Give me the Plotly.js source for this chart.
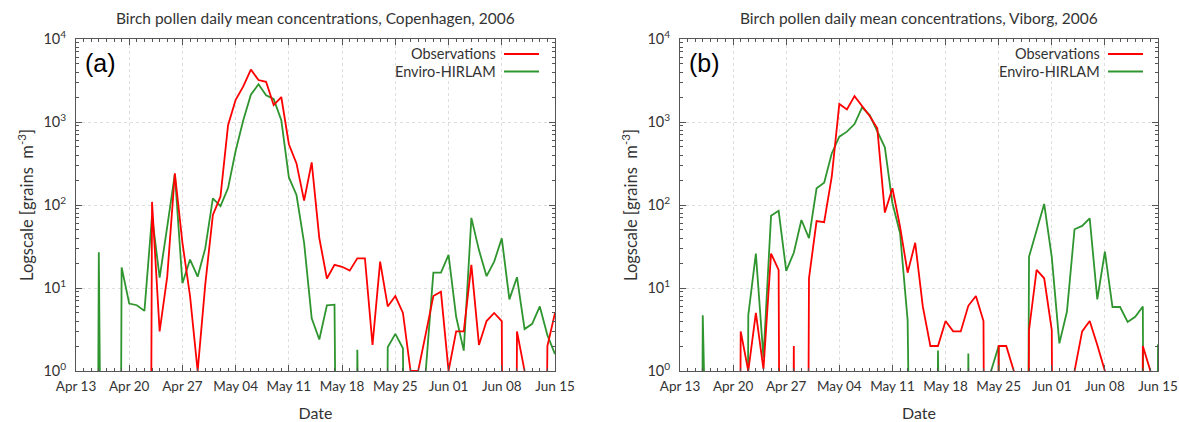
<!DOCTYPE html>
<html>
<head>
<meta charset="utf-8">
<script src="https://cdn.plot.ly/plotly-3.0.1.min.js"></script>
<style>html,body{margin:0;padding:0;background:#fff;}#chart{width:1179px;height:422px;}</style>
</head>
<body>
<div id="chart"></div>
<script>
// Daily values from 2006-04-13 (index 0) to 2006-06-15 (index 63). 0 = no pollen (off the log scale).
const startDate = '2006-04-13';
const nDays = 64;

const obsCopenhagen = [0,0,0,0,0,0,0,0,0,0, 109,3.0,13.7,240,35,8,1.0,11,76,126,
  915,1850,2680,4290,3200,3050,1600,2000,540,317,
  113,326,40,13,19,18,16.2,22.8,22.8,2.06,
  20.8,6.0,8.0,5.0,1.0,1.0,2.8,8.0,9.0,1.0,
  3.0,3.0,19,2.06,4.0,5.0,4.0,0,3.0,1.0,
  0,0,2.0,5.0];
const modCopenhagen = [0,0,0,27,0,0,17.7,6.5,6.2,5.3, 74,13.3,55,236,11.4,22,13.7,30,120,97,
  160,450,1050,2130,2850,2100,1900,1050,215,132,
  35,4.3,2.4,6.2,6.3,0,0,1.8,0,0,
  0,1.93,2.8,1.88,0,0,1.0,15.3,15.3,25,
  4.5,1.76,70,28.6,13.9,20.8,39.7,7.3,13.5,3.2,
  3.7,6.0,2.7,1.6];
const obsViborg = [0,0,0,0,0,0,0,0,3.0,1.0, 5.0,1.05,26,16.5,0,2.0,0,13.1,64,62,
  219,1650,1420,2050,1550,1180,840,81,159,55,
  15.3,35,6.0,2.0,2.0,4.0,3.0,3.0,6.1,8.0,
  4.0,0,2.0,2.0,1.0,0,3.1,16.5,13.1,3.1,
  0,0,1.0,3.0,4.0,2.06,1.0,0,0,0,
  0,2.0,1.0,0];
const modViborg = [0,0,0,4.7,0,0,0,0,0,4.7, 26,1.45,74,85,16.1,26.6,66,40,159,186,
  418,665,765,945,1500,1210,770,495,105,46,
  4.1,0,0,0,1.76,0,0,0,1.63,0,
  0,1.0,2.0,0,0,0,23.8,50,103,23.5,
  2.15,5.2,51,56,69,7.3,27.4,5.9,5.9,3.9,
  4.5,6.0,0,2.1];

const panelTitles = ['Birch pollen daily mean concentrations, Copenhagen, 2006',
                     'Birch pollen daily mean concentrations, Viborg, 2006'];
const panelLabels = ['(a)', '(b)'];
const seriesNames = ['Observations', 'Enviro-HIRLAM'];
const seriesColors = ['#ff0000', '#2f952f'];
const yTickVals = [1, 10, 100, 1000, 10000];
const yTickText = ['10<sup>0</sup>','10<sup>1</sup>','10<sup>2</sup>','10<sup>3</sup>','10<sup>4</sup>'];

// build date categories
const dates = [];
{
  const t0 = Date.UTC(2006, 3, 13);
  for (let i = 0; i < nDays; i++) {
    const d = new Date(t0 + i * 86400000);
    dates.push(d.toISOString().slice(0, 10));
  }
}
// zeros cannot be shown on a log axis: send them far below the axis so the line drops vertically
const floorZero = arr => arr.map(v => v > 0 ? v : 1e-20);

const minorY = [];
for (let e = 0; e < 4; e++) for (let k = 2; k <= 9; k++) minorY.push(k * Math.pow(10, e));

const W = 1179, H = 422;
const plotX = [[76, 555], [680, 1158]];
const plotY = [39, 371];
const fontFam = 'Lato, "Open Sans", sans-serif';
const txtColor = '#333333';

const traces = [];
const data = [[obsCopenhagen, modCopenhagen], [obsViborg, modViborg]];
data.forEach((pair, p) => {
  pair.forEach((ser, s) => {
    traces.push({
      x: dates, y: floorZero(ser), type: 'scatter', mode: 'lines',
      name: seriesNames[s], xaxis: p ? 'x2' : 'x', yaxis: p ? 'y2' : 'y',
      line: {color: seriesColors[s], width: 1.8},
      showlegend: false, hoverinfo: 'x+y'
    });
  });
});
// draw observations on top
const ordered = [traces[1], traces[0], traces[3], traces[2]];

function xAxis(p) {
  return {
    domain: [plotX[p][0] / W, plotX[p][1] / W],
    type: 'date', range: [startDate, '2006-06-15'],
    tickmode: 'linear', tick0: startDate, dtick: 7 * 86400000,
    tickformat: '%b %d',
    ticks: 'inside', ticklen: 6, tickcolor: '#555', tickwidth: 1,
    minor: {dtick: 86400000, ticks: 'inside', ticklen: 3, tickcolor: '#555', showgrid: false},
    showline: true, linecolor: '#555', linewidth: 1, mirror: 'ticks',
    showgrid: true, gridcolor: '#dedede', griddash: 'dot', gridwidth: 1,
    zeroline: false,
    tickfont: {family: fontFam, size: 13.5, color: txtColor},
    ticklabelstandoff: 3,
    title: {text: 'Date', font: {family: fontFam, size: 16, color: txtColor}, standoff: 15},
    anchor: p ? 'y2' : 'y', automargin: false, fixedrange: true
  };
}
function yAxis(p) {
  return {
    domain: [1 - plotY[1] / H, 1 - plotY[0] / H],
    type: 'log', range: [0, 4],
    tickmode: 'array', tickvals: yTickVals, ticktext: yTickText,
    ticks: 'inside', ticklen: 6, tickcolor: '#555',
    minor: {tickmode: 'array', tickvals: minorY, ticks: 'inside', ticklen: 3, tickcolor: '#555', showgrid: false},
    showline: true, linecolor: '#555', linewidth: 1, mirror: 'ticks',
    showgrid: true, gridcolor: '#dedede', griddash: 'dot', gridwidth: 1,
    zeroline: false,
    tickfont: {family: fontFam, size: 14.5, color: txtColor},
    ticklabelstandoff: 6,
    title: {text: 'Logscale [grains&nbsp;&nbsp;m<sup>-3</sup>]', font: {family: fontFam, size: 16.5, color: txtColor}, standoff: 5},
    anchor: p ? 'x2' : 'x', automargin: false, fixedrange: true
  };
}

const annotations = [];
const shapes = [];
[0, 1].forEach(p => {
  const x0 = plotX[p][0], x1 = plotX[p][1];
  annotations.push({text: panelTitles[p], xref: 'paper', yref: 'paper',
    x: (x0 + x1) / 2 / W, y: 1 - 18 / H, xanchor: 'center', yanchor: 'middle', showarrow: false,
    font: {family: fontFam, size: 15.5, color: txtColor}});
  annotations.push({text: panelLabels[p], xref: 'paper', yref: 'paper',
    x: (x0 + 7) / W, y: 1 - 63 / H, xanchor: 'left', yanchor: 'middle', showarrow: false,
    font: {family: 'Liberation Sans, Arial, sans-serif', size: 25, color: '#000'}});
  seriesNames.forEach((nm, s) => {
    const yy = 1 - (54 + 17.5 * s) / H;
    annotations.push({text: nm, xref: 'paper', yref: 'paper',
      x: (x0 + 422) / W, y: yy, xanchor: 'right', yanchor: 'middle', showarrow: false,
      font: {family: fontFam, size: 14.5, color: txtColor}});
    shapes.push({type: 'line', xref: 'paper', yref: 'paper',
      x0: (x0 + 428) / W, x1: (x0 + 463) / W, y0: yy, y1: yy,
      line: {color: seriesColors[s], width: 1.8}});
  });
});

const layout = {
  width: W, height: H,
  margin: {l: 0, r: 0, t: 0, b: 0},
  paper_bgcolor: '#fff', plot_bgcolor: '#fff',
  showlegend: false,
  xaxis: xAxis(0), yaxis: yAxis(0),
  xaxis2: xAxis(1), yaxis2: yAxis(1),
  annotations: annotations, shapes: shapes
};

Plotly.newPlot('chart', ordered, layout, {staticPlot: true, displayModeBar: false});
</script>
</body>
</html>
